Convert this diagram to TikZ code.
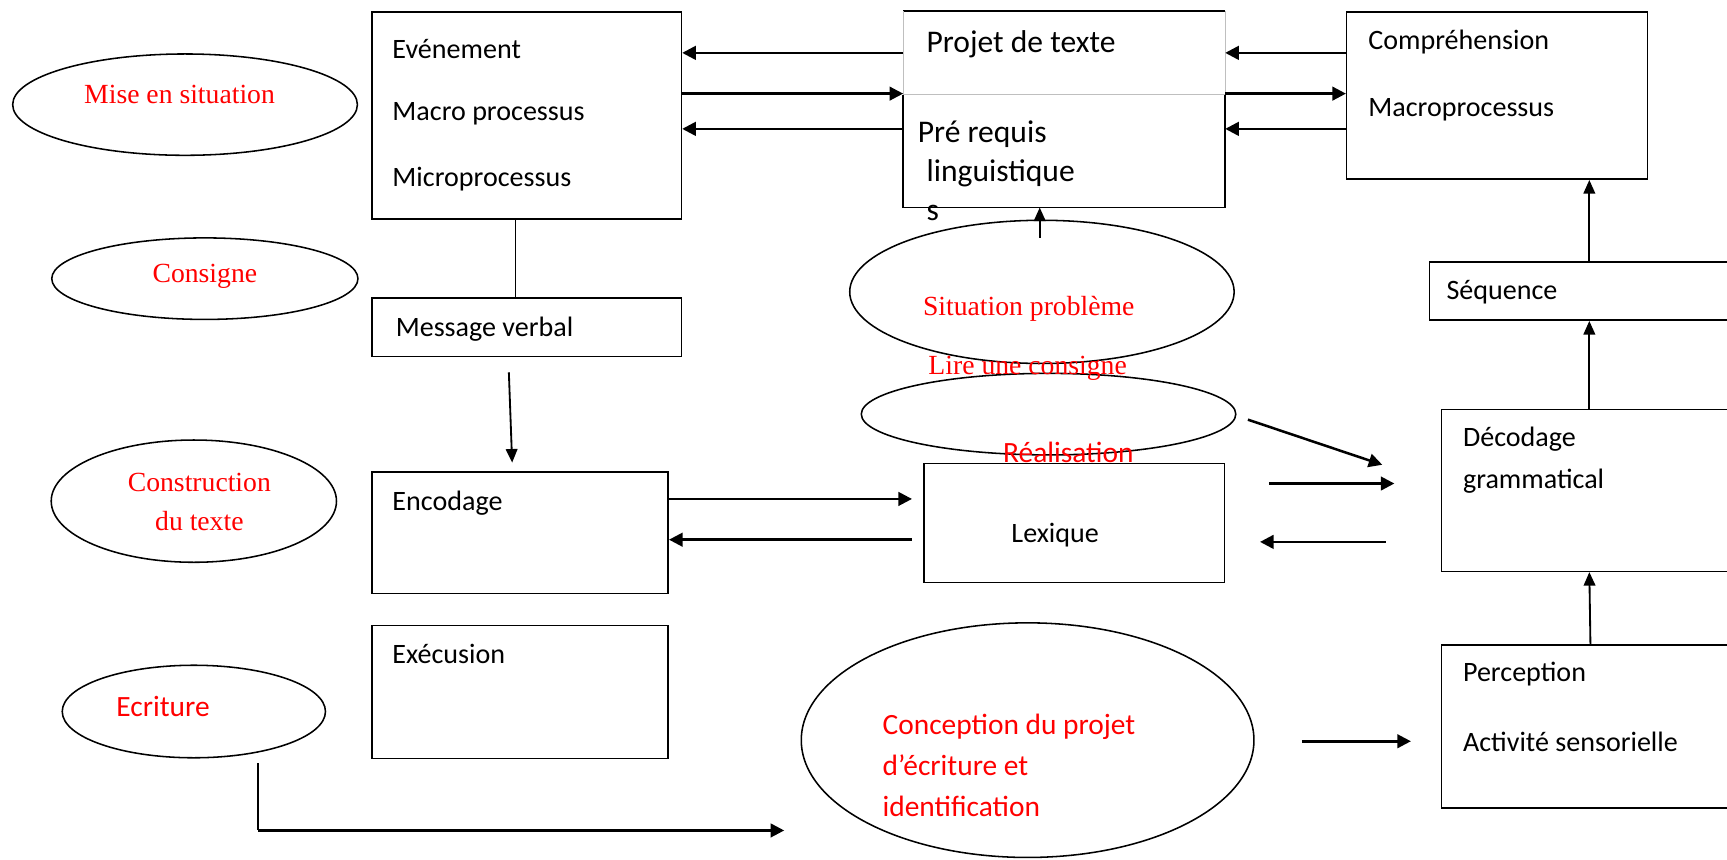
\documentclass[tikz,border=0pt]{standalone}
\usepackage{fontspec}
\setmainfont{Carlito}
\newfontfamily\tnr{Liberation Serif}
\usetikzlibrary{arrows.meta,shapes.geometric}

\begin{document}
\begin{tikzpicture}[x=0.2mm, y=-0.2mm,
  box/.style={draw, line width=0.8pt, anchor=north west, inner sep=0pt},
  bulle/.style={draw, ellipse, line width=0.8pt, inner sep=0pt},
  txt/.style={anchor=west, inner sep=0pt, yshift=-1.1pt, font=\fontsize{14.5}{17}\selectfont},
  grand/.style={anchor=west, inner sep=0pt, yshift=-0.6pt, font=\fontsize{16.3}{19}\selectfont},
  rouge/.style={text=red, inner sep=0pt, font=\tnr\fontsize{14.3}{20}\selectfont},
  rougec/.style={text=red, inner sep=0pt, font=\fontsize{15.2}{21}\selectfont},
  fleche/.style={-{Triangle[length=7pt,width=7pt]}, line width=1.3pt},
  fine/.style={-{Triangle[length=7pt,width=6pt]}, line width=0.95pt}]

\useasboundingbox (0,0) rectangle (1568,780);
\clip (0,0) rectangle (1568,780);

% Boxes
\node[box, minimum width=56.2mm, minimum height=37.6mm] (evt) at (337,10) {};
\node[box, minimum width=56.2mm, minimum height=10.6mm] (msg) at (337,270) {};
\node[box, minimum width=53.8mm, minimum height=22mm] (enc) at (337,428) {};
\node[box, minimum width=53.8mm, minimum height=24.2mm] (exe) at (337,567) {};
\node[box, draw=none, minimum width=58.2mm, minimum height=35.4mm] (projet) at (820,10) {};
\node[box, minimum width=54.6mm, minimum height=30.4mm] (comp) at (1222,10) {};
\node[box, minimum width=60.6mm, minimum height=10.6mm] (seq) at (1297,237) {};
\node[box, minimum width=58.4mm, minimum height=29.4mm] (dec) at (1308,371) {};
\node[box, minimum width=58.4mm, minimum height=29.6mm] (perc) at (1308,585) {};
\node[box, minimum width=54.6mm, minimum height=21.6mm] (lex) at (838,420) {};

% Projet de texte: two parts
\draw[line width=0.8pt] (projet.north west) -- (projet.north east);
\draw[gray!50, line width=0.6pt] (projet.north west) -- (projet.west |- 0,86) -- (projet.east |- 0,86) -- (projet.north east);
\draw[line width=0.8pt] (projet.west |- 0,86) -- (projet.south west) -- (projet.south east) -- (projet.east |- 0,86);

% Ellipses
\node[bulle, minimum width=62.6mm, minimum height=18.4mm] (mise) at (168,95) {};
\node[bulle, minimum width=55.6mm, minimum height=14.8mm] (consigne) at (186,253) {};
\node[bulle, minimum width=51.8mm, minimum height=22.2mm] (constr) at (176,455) {};
\node[bulle, minimum width=47.8mm, minimum height=16.8mm] (ecrit) at (176,646) {};
\node[bulle, minimum width=69.8mm, minimum height=26mm] (sitpb) at (946,265) {};
\node[bulle, minimum width=68mm, minimum height=14.8mm] (lire) at (952,376) {};
\node[bulle, minimum width=82.2mm, minimum height=42.6mm] (concep) at (933,672) {};

% Red labels
\node[rouge] (tMise) at (163,86) {Mise en situation};
\node[rouge] (tCons) at (186,251) {Consigne};
\node[rouge, align=center] (tConstr) at (181,456) {Construction\\du texte};
\node[rougec] (tEcrit) at (148,641) {Ecriture};
\node[rouge] (tSit) at (934,280) {Situation problème};
\node[rouge] (tLire) at (933,334) {Lire une consigne};
\node[rougec] (tReal) at (970,411) {Réalisation};
\node[rougec, anchor=west, align=left] (tConcep) at (801,695) {Conception du projet\\d’écriture et\\identification};

% Box texts
\node[txt] (tEvt) at (356,43) {Evénement};
\node[txt] (tMacro) at (356,101) {Macro processus};
\node[txt] (tMicro) at (356,161) {Microprocessus};
\node[txt] (tMsg) at (359,297) {Message verbal};
\node[txt] (tEnc) at (356,455) {Encodage};
\node[txt] (tExe) at (356,592) {Exécusion};
\node[grand] (tProjet) at (841,39) {Projet de texte};
\node[grand] (tPre) at (833,121) {Pré requis};
\node[grand] (tLing) at (841,156) {linguistique};
\node[grand] (tS) at (841,192) {s};
\node[txt] (tComp) at (1242,36) {Compréhension};
\node[txt] (tMacroB) at (1242,98) {Macroprocessus};
\node[txt] (tSeq) at (1313,263) {Séquence};
\node[txt] (tDec) at (1328,397) {Décodage};
\node[txt] (tGram) at (1328,435) {grammatical};
\node[txt, anchor=center] (tLex) at (958,484) {Lexique};
\node[txt] (tPerc) at (1328,610) {Perception};
\node[txt] (tAct) at (1328,672) {Activité sensorielle};

% Free ends
\coordinate (m1) at (462,338);
\coordinate (m2) at (465,420);
\coordinate (s1) at (944,216);
\coordinate (d1) at (1133,381);
\coordinate (d2) at (1255,422);
\coordinate (l1) at (1152,439);
\coordinate (l2) at (1266,439);
\coordinate (l3) at (1258,492);
\coordinate (l4) at (1144,492);
\coordinate (c1) at (1182,673);
\coordinate (c2) at (1281,673);
\coordinate (e1) at (234,693);
\coordinate (e2) at (712,754);
\coordinate (x1) at (828,453);
\coordinate (x2) at (828,490);

% Arrows top row
\draw[fleche] (projet.west |- 0,48) -- (evt.east |- 0,48);
\draw[fleche] (evt.east |- 0,85) -- (projet.west |- 0,85);
\draw[fleche] (projet.west |- 0,117) -- (evt.east |- 0,117);
\draw[fleche] (comp.west |- 0,48) -- (projet.east |- 0,48);
\draw[fleche] (projet.east |- 0,85) -- (comp.west |- 0,85);
\draw[fleche] (comp.west |- 0,117) -- (projet.east |- 0,117);

% Right column
\draw[fine] (seq.north -| 1443,0) -- (comp.south -| 1443,0);
\draw[fine] (dec.north -| 1443,0) -- (seq.south -| 1443,0);
\draw[fine] (perc.north -| 1444,0) -- (dec.south -| 1443,0);

% Left column
\draw[line width=0.8pt] (evt.south -| 468,0) -- (msg.north -| 468,0);
\draw[fine] (m1) -- (m2);
\draw[line width=0.8pt] (e1) -- (e1 |- e2);
\draw[fleche] (e1 |- e2) -- (e2);

% Middle
\draw[fine] (s1) -- (projet.south -| s1);
\draw[fleche] (enc.east |- x1) -- (x1);
\draw[fleche] (x2) -- (enc.east |- x2);
\draw[fleche] (d1) -- (d2);
\draw[fleche] (l1) -- (l2);
\draw[fleche] (l3) -- (l4);
\draw[fleche] (c1) -- (c2);

\end{tikzpicture}
\end{document}
